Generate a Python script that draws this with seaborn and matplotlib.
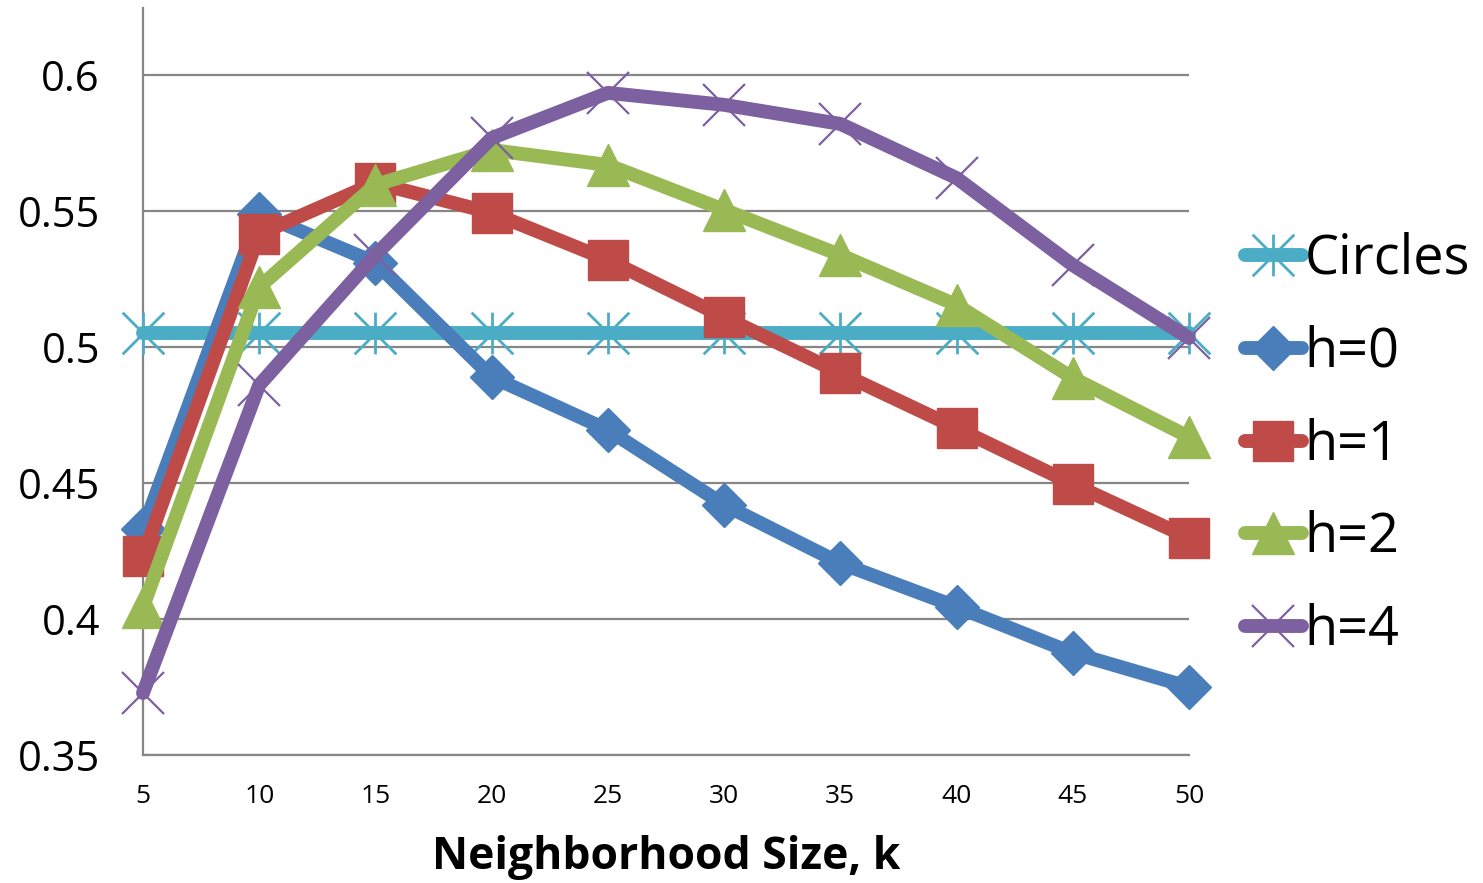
import numpy as np
import pandas as pd
import matplotlib
matplotlib.use("Agg")
import matplotlib.pyplot as plt
from matplotlib.path import Path
import seaborn as sns

k = [5, 10, 15, 20, 25, 30, 35, 40, 45, 50]
circles = [0.505] * 10
h0 = [0.433, 0.549, 0.531, 0.489, 0.4695, 0.442, 0.4205, 0.4045, 0.3875, 0.375]
h1 = [0.423, 0.5415, 0.5603, 0.5493, 0.532, 0.511, 0.4904, 0.4702, 0.4496, 0.4298]
h2 = [0.4044, 0.522, 0.5596, 0.5724, 0.5669, 0.5504, 0.5338, 0.5154, 0.4886, 0.4669]
h4 = [0.3728, 0.486, 0.5338, 0.5768, 0.5934, 0.589, 0.582, 0.5621, 0.5301, 0.5033]
series_names = ["Circles", "h=0", "h=1", "h=2", "h=4"]
y_ticks = [0.35, 0.4, 0.45, 0.5, 0.55, 0.6]
y_tick_labels = ["0.35", "0.4", "0.45", "0.5", "0.55", "0.6"]
x_label = "Neighborhood Size, k"

sns.set_style("white")
plt.rcParams["font.family"] = ["Open Sans", "DejaVu Sans"]
plt.rcParams["text.color"] = "black"
plt.rcParams["axes.labelcolor"] = "black"
plt.rcParams["xtick.labelcolor"] = "black"
plt.rcParams["ytick.labelcolor"] = "black"

asterisk = Path([(0, -1), (0, 1), (-1, -1), (1, 1), (-1, 1), (1, -1)],
                [Path.MOVETO, Path.LINETO, Path.MOVETO, Path.LINETO, Path.MOVETO, Path.LINETO])

styles = {
    "Circles": dict(color="#4BACC6", marker=asterisk, ms=30, mew=2.0, mfc="none"),
    "h=0": dict(color="#4A7EBB", marker="D", ms=22, mew=1, mfc="#4A7EBB"),
    "h=1": dict(color="#BE4B48", marker="s", ms=29, mew=1, mfc="#BE4B48"),
    "h=2": dict(color="#98B954", marker="^", ms=30, mew=1, mfc="#98B954"),
    "h=4": dict(color="#7D60A0", marker="x", ms=30, mew=1.6, mfc="none"),
}
values = {"Circles": circles, "h=0": h0, "h=1": h1, "h=2": h2, "h=4": h4}

fig = plt.figure(figsize=(14.83, 8.83), dpi=100)
ax = fig.add_axes([143 / 1483, 1 - 755 / 883, (1189 - 143) / 1483, (755 - 8) / 883])

for i, name in enumerate(series_names):
    df = pd.DataFrame({"k": k, "v": values[name]})
    st = styles[name]
    sns.lineplot(data=df, x="k", y="v", ax=ax, color=st["color"], lw=10,
                 marker=st["marker"], markersize=st["ms"], markeredgewidth=st["mew"],
                 markeredgecolor=st["color"], markerfacecolor=st["mfc"],
                 label=name, clip_on=False, zorder=3 + i, solid_capstyle="round",
                 solid_joinstyle="round")

ax.set_xlim(5, 50)
ax.set_ylim(0.35, 0.6246)
ax.set_xticks(k)
ax.set_xticklabels([str(v) for v in k], fontsize=19, color="black")
ax.set_yticks(y_ticks)
ax.set_yticklabels(y_tick_labels, fontsize=30, color="black")
ax.grid(axis="y", color="#868686", lw=1.6)
ax.grid(axis="x", visible=False)
ax.set_axisbelow(True)
for s in ["top", "right"]:
    ax.spines[s].set_visible(False)
for s in ["left", "bottom"]:
    ax.spines[s].set_color("#868686")
    ax.spines[s].set_linewidth(1.6)
ax.tick_params(axis="y", direction="out", length=11, width=1.6, color="#868686", pad=20)
ax.tick_params(axis="x", direction="out", length=7, width=1.6, color="#868686", pad=14)
ax.set_xlabel(x_label, fontsize=32, fontweight="bold", color="black")
ax.xaxis.set_label_coords(0.5, -(857 - 755) / 747)
ax.xaxis.label.set_va("center")
ax.set_ylabel("")

handles, labels = ax.get_legend_handles_labels()
ax.get_legend().remove()
leg = fig.legend(handles, labels, loc="upper left", bbox_to_anchor=(1223 / 1483, 1 - 210 / 883),
                 frameon=False, fontsize=39, handlelength=1.05, handletextpad=0.05,
                 labelspacing=0.70, borderaxespad=0)
for t in leg.get_texts():
    t.set_color("black")

fig.savefig("out.png", dpi=100)
